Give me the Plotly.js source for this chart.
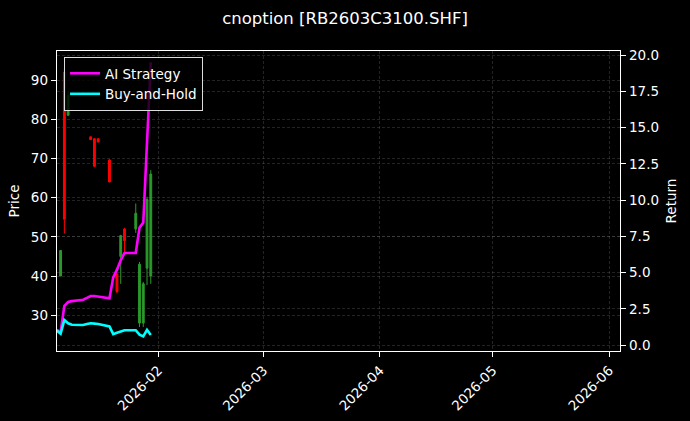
<!DOCTYPE html>
<html>
<head>
<meta charset="utf-8">
<script src="https://cdn.plot.ly/plotly-3.0.1.min.js"></script>
<style>
  html, body { margin: 0; padding: 0; background: #000; }
  #chart_div { width: 690px; height: 421px; }
</style>
</head>
<body>
<div id="chart_div"></div>
<script>
// daily candles of the option (price axis, left)
var candle_dates = ['2026-01-06', '2026-01-07', '2026-01-08', '2026-01-14', '2026-01-15',
                    '2026-01-16', '2026-01-19', '2026-01-21', '2026-01-22', '2026-01-23',
                    '2026-01-26', '2026-01-27', '2026-01-28', '2026-01-29', '2026-01-30'];
var price_open  = [40.0, 92.0, 81.0, 75.5, 75.0, 75.0, 69.6, 40.5, 45.0, 52.0, 52.0, 28.0, 28.0, 42.0, 40.0];
var price_high  = [46.6, 93.0, 87.0, 75.6, 75.2, 75.1, 69.8, 40.6, 50.5, 52.3, 58.5, 43.6, 38.5, 60.2, 67.0];
var price_low   = [40.0, 50.8, 80.9, 74.7, 67.9, 74.1, 63.9, 35.6, 38.0, 46.0, 51.0, 27.0, 27.0, 37.7, 38.0];
var price_close = [46.5, 54.5, 86.0, 74.8, 68.0, 74.2, 64.0, 36.0, 50.3, 49.0, 56.0, 43.0, 38.0, 59.5, 66.0];

// cumulative returns (return axis, right)
var return_dates = ['2026-01-05', '2026-01-06', '2026-01-07', '2026-01-08', '2026-01-09',
                    '2026-01-12', '2026-01-13', '2026-01-14', '2026-01-15', '2026-01-16',
                    '2026-01-19', '2026-01-20', '2026-01-21', '2026-01-22', '2026-01-23',
                    '2026-01-26', '2026-01-27', '2026-01-28', '2026-01-29', '2026-01-30'];
var ai_strategy  = [1.05, 0.9, 2.7, 2.97, 3.03, 3.13, 3.25, 3.38, 3.38, 3.33,
                    3.22, 4.67, 5.2, 5.85, 6.35, 6.35, 8.1, 8.45, 14.0, 19.5];
var buy_and_hold = [1.0, 0.78, 1.72, 1.5, 1.4, 1.38, 1.45, 1.5, 1.48, 1.45,
                    1.28, 0.75, 0.85, 0.95, 1.02, 1.02, 0.72, 0.6, 1.05, 0.7];

var chart_title = 'cnoption [RB2603C3100.SHF]';

var font_family = 'DejaVu Sans, sans-serif';
var grid_color = 'rgba(128,128,128,0.55)';

var candles = {
  type: 'candlestick',
  x: candle_dates,
  open: price_open,
  high: price_high,
  low: price_low,
  close: price_close,
  increasing: { line: { color: '#2a9a2a', width: 1 }, fillcolor: '#2a9a2a' },
  decreasing: { line: { color: '#ff0000', width: 1 }, fillcolor: '#ff0000' },
  whiskerwidth: 0,
  showlegend: false,
  hoverinfo: 'skip',
  xaxis: 'x',
  yaxis: 'y'
};

var ai_line = {
  type: 'scatter',
  mode: 'lines',
  x: return_dates,
  y: ai_strategy,
  name: 'AI Strategy',
  line: { color: '#ff00ff', width: 2.6 },
  xaxis: 'x',
  yaxis: 'y2'
};

var bh_line = {
  type: 'scatter',
  mode: 'lines',
  x: return_dates,
  y: buy_and_hold,
  name: 'Buy-and-Hold',
  line: { color: '#00ffff', width: 2.6 },
  xaxis: 'x',
  yaxis: 'y2'
};

var layout = {
  width: 690,
  height: 421,
  paper_bgcolor: '#000',
  plot_bgcolor: '#000',
  font: { family: font_family, color: '#fff', size: 13.5 },
  margin: { l: 57, r: 70, t: 51, b: 70, pad: 0 },
  title: {
    text: chart_title,
    font: { family: font_family, size: 16.5, color: '#fff' },
    x: 0.5, xanchor: 'center',
    y: 1 - 18 / 421, yanchor: 'middle', yref: 'container'
  },
  xaxis: {
    type: 'date',
    range: ['2026-01-05 01:00', '2026-06-03 21:00'],
    tickformat: '%Y-%m',
    dtick: 'M1',
    tick0: '2026-02-01',
    tickangle: -45,
    ticks: 'outside', ticklen: 5, tickcolor: '#fff',
    showline: true, mirror: true, linecolor: '#fff', linewidth: 1.3,
    showgrid: true, gridcolor: grid_color, gridwidth: 0.5, griddash: '3px,2px',
    zeroline: false,
    rangeslider: { visible: false },
    tickfont: { size: 13.5, color: '#fff' }
  },
  yaxis: {
    range: [20.87, 97.4],
    dtick: 10, tick0: 0,
    ticks: 'outside', ticklen: 5, tickcolor: '#fff',
    showline: true, mirror: true, linecolor: '#fff', linewidth: 1.3,
    showgrid: true, gridcolor: grid_color, gridwidth: 0.5, griddash: '3px,2px',
    zeroline: false,
    tickfont: { size: 13.5, color: '#fff' },
    title: { text: 'Price', font: { size: 13.5, color: '#fff' }, standoff: 8 }
  },
  yaxis2: {
    overlaying: 'y',
    side: 'right',
    range: [-0.41, 20.28],
    dtick: 2.5, tick0: 0,
    tickformat: '.1f',
    ticks: 'outside', ticklen: 5, tickcolor: '#fff',
    showline: true, linecolor: '#fff', linewidth: 1.3,
    showgrid: true, gridcolor: grid_color, gridwidth: 0.5, griddash: '3px,2px',
    zeroline: false,
    tickfont: { size: 13.5, color: '#fff' },
    title: { text: 'Return', font: { size: 13.5, color: '#fff' }, standoff: 8 }
  },
  legend: {
    x: 0.0125, xanchor: 'left',
    y: 0.98, yanchor: 'top',
    bgcolor: 'rgba(0,0,0,0.8)',
    bordercolor: '#ddd', borderwidth: 1,
    font: { size: 13.5, color: '#fff' },
    tracegroupgap: 0
  },
  showlegend: true
};

Plotly.newPlot('chart_div', [candles, ai_line, bh_line], layout, { displayModeBar: false, staticPlot: true });
</script>
</body>
</html>
